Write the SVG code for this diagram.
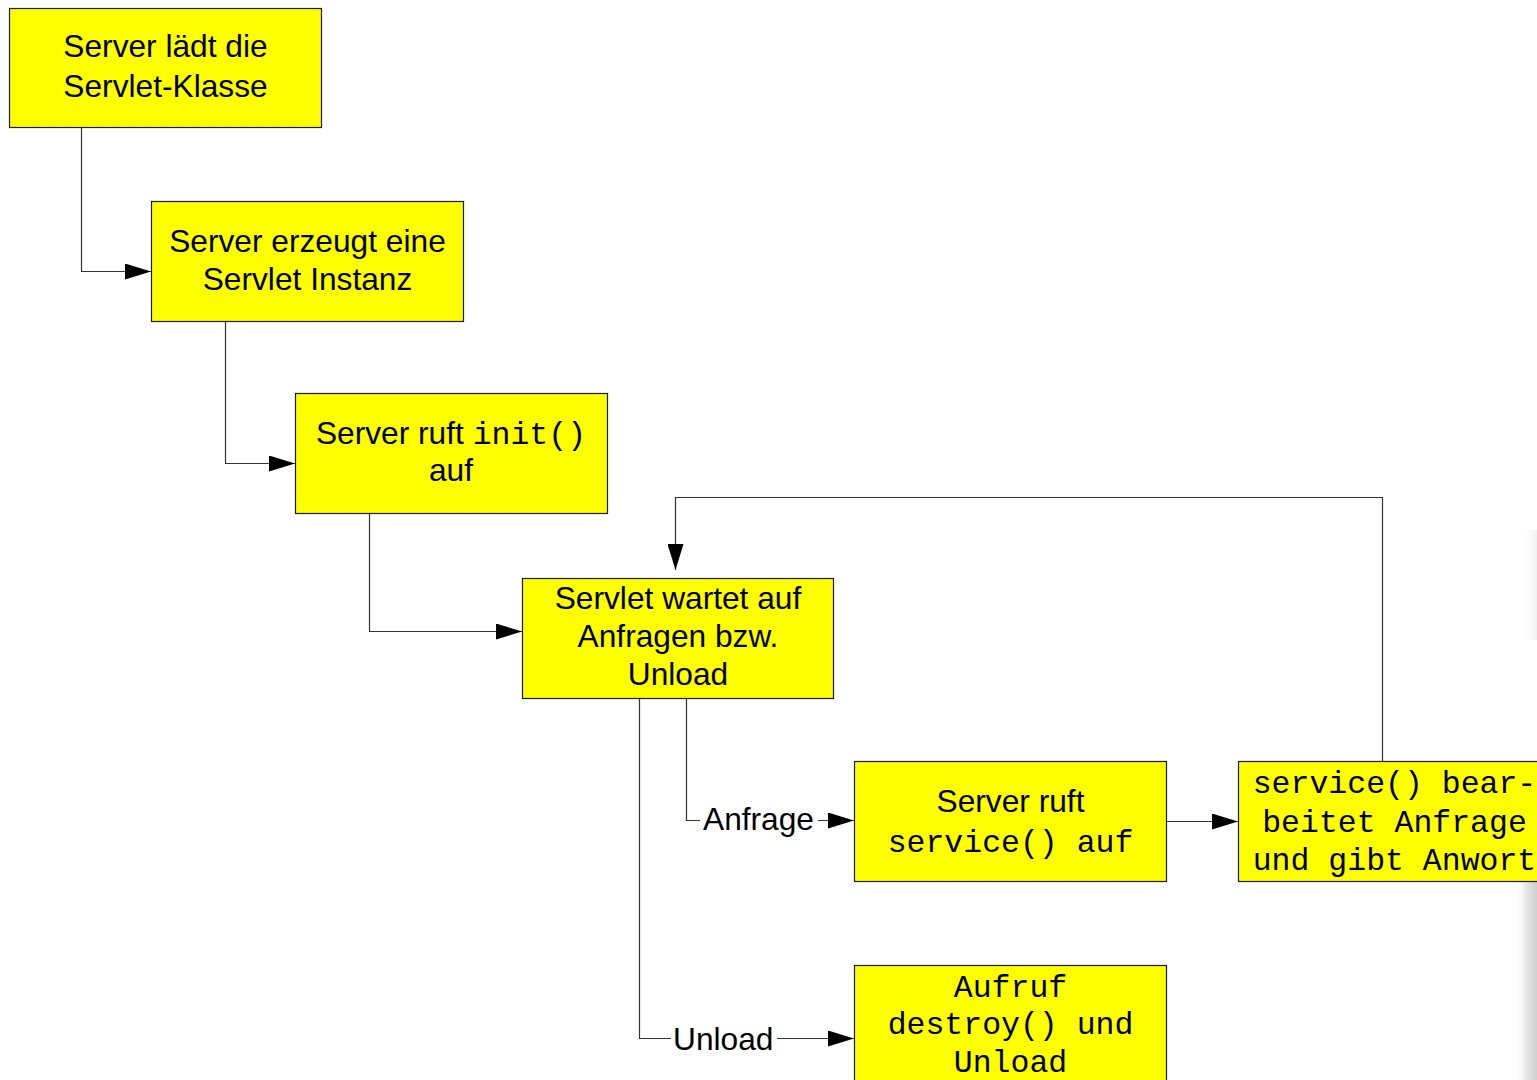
<svg xmlns="http://www.w3.org/2000/svg" width="1537" height="1080" viewBox="0 0 1537 1080">
<style>
.box{fill:#ffff00;stroke:#1a1a1a;stroke-width:1.2}
.s{font-family:"Liberation Sans",Arial,sans-serif;font-size:31.7px;fill:#000;text-anchor:middle}
.m{font-family:"Liberation Mono","Courier New",monospace;font-size:31.5px;fill:#000}
.mm{font-family:"Liberation Mono","Courier New",monospace;font-size:31.5px;fill:#000;text-anchor:middle}
.c{fill:none;stroke:#333;stroke-width:1.2}
.lbl{font-family:"Liberation Sans",Arial,sans-serif;font-size:31.7px;fill:#000}
</style>
<defs>
<marker id="arr" markerUnits="userSpaceOnUse" markerWidth="26" markerHeight="16" refX="26" refY="8" orient="auto">
<path d="M0,0 L26,8 L0,16 z" fill="#000"/>
</marker>
<linearGradient id="edge" x1="0" y1="0" x2="1" y2="0">
<stop offset="0" stop-color="#fff" stop-opacity="0"/>
<stop offset="0.5" stop-color="#e6e6e6"/>
<stop offset="1" stop-color="#cfcfcf"/>
</linearGradient>
<linearGradient id="edge2" x1="0" y1="0" x2="1" y2="0">
<stop offset="0" stop-color="#fff" stop-opacity="0"/>
<stop offset="1" stop-color="#f0f0f0"/>
</linearGradient>
</defs>
<rect width="1537" height="1080" fill="#fff"/>
<rect x="1515" y="882" width="22" height="198" fill="url(#edge)"/>
<rect x="1520" y="530" width="17" height="110" fill="url(#edge2)"/>
<g id="connectors">
<path class="c" d="M81.5,127 V271.5 H151" marker-end="url(#arr)"/>
<path class="c" d="M225.5,321 V463.5 H295" marker-end="url(#arr)"/>
<path class="c" d="M369.5,513 V631.5 H522" marker-end="url(#arr)"/>
<path class="c" d="M1382.5,761 V497.5 H675.5 V570" marker-end="url(#arr)"/>
<path class="c" d="M686.5,698 V820.5 H700"/>
<path class="c" d="M818,820.5 H854" marker-end="url(#arr)"/>
<text class="lbl" x="703" y="830">Anfrage</text>
<path class="c" d="M639.5,698 V1038.5 H671"/>
<path class="c" d="M777,1038.5 H854" marker-end="url(#arr)"/>
<text class="lbl" x="673" y="1050">Unload</text>
<path class="c" d="M1166,821.5 H1238" marker-end="url(#arr)"/>
</g>
<g id="n1">
<rect class="box" x="9.5" y="8.5" width="312" height="119"/>
<text class="s" x="165.5" y="57">Server lädt die</text>
<text class="s" x="165.5" y="96.5">Servlet-Klasse</text>
</g>
<g id="n2">
<rect class="box" x="151.5" y="201.5" width="312" height="120"/>
<text class="s" x="307.5" y="252">Server erzeugt eine</text>
<text class="s" x="307.5" y="290">Servlet Instanz</text>
</g>
<g id="n3">
<rect class="box" x="295.5" y="393.5" width="312" height="120"/>
<text class="s" x="451" y="443.5">Server ruft <tspan class="m">init()</tspan></text>
<text class="s" x="451" y="481">auf</text>
</g>
<g id="n4">
<rect class="box" x="522.5" y="578.5" width="311" height="120"/>
<text class="s" x="678" y="608.5">Servlet wartet auf</text>
<text class="s" x="678" y="647">Anfragen bzw.</text>
<text class="s" x="678" y="685">Unload</text>
</g>
<g id="n5">
<rect class="box" x="854.5" y="761.5" width="312" height="120"/>
<text class="s" x="1010.5" y="812">Server ruft</text>
<text class="mm" x="1010.5" y="852">service() auf</text>
</g>
<g id="n6">
<rect class="box" x="1238.5" y="761.5" width="312" height="120"/>
<text class="mm" x="1394.5" y="793">service() bear-</text>
<text class="mm" x="1394.5" y="831.5">beitet Anfrage</text>
<text class="mm" x="1394.5" y="870">und gibt Anwort</text>
</g>
<g id="n7">
<rect class="box" x="854.5" y="965.5" width="312" height="120"/>
<text class="mm" x="1010.5" y="997">Aufruf</text>
<text class="mm" x="1010.5" y="1034">destroy() und</text>
<text class="mm" x="1010.5" y="1072">Unload</text>
</g>
</svg>
